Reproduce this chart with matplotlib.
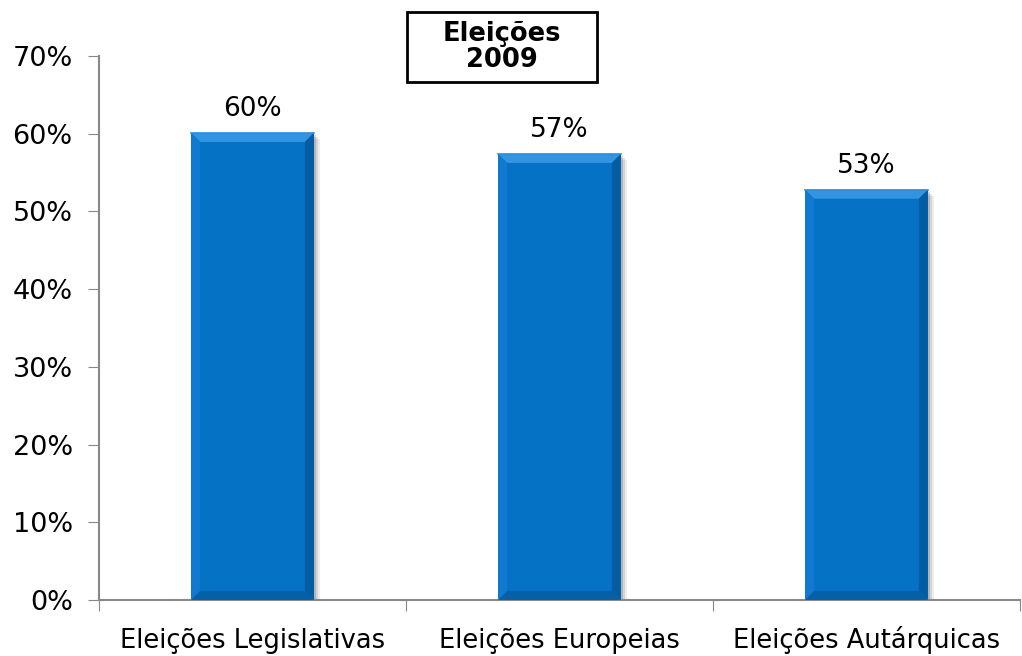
import matplotlib.pyplot as plt
import numpy as np
from matplotlib.patches import Rectangle

categories = ['Eleições Legislativas', 'Eleições Europeias', 'Eleições Autárquicas']
values = [60.1, 57.4, 52.8]
labels = ['60%', '57%', '53%']
yticks = [0, 10, 20, 30, 40, 50, 60, 70]

fig = plt.figure(figsize=(10.22, 6.56), dpi=100)
ax = fig.add_axes([0.0969, 0.0854, 0.9011, 0.8292])

x = np.arange(len(categories))
w = 0.40
main = '#0572C6'

# pixel sizes in data units
px_x = 3.0 / 921
px_y = 70.0 / 544
bx = 9 * px_x
by = 9 * px_y

for xi, v in zip(x, values):
    l, r = xi - w / 2, xi + w / 2
    # soft shadow
    for k, a in zip([6, 4, 2], [0.07, 0.10, 0.15]):
        ax.fill([l + k * px_x, r + k * px_x, r + k * px_x, l + k * px_x],
                [-k * px_y, -k * px_y, v - k * px_y, v - k * px_y],
                color='black', alpha=a, lw=0, zorder=1)
    ax.bar(xi, v, width=w, color=main, zorder=2)
    # bevel: top light, left slightly light, right and bottom dark
    ax.fill([l, r, r - bx, l + bx], [v, v, v - by, v - by], color='#3394E2', lw=0, zorder=3)
    ax.fill([l, l + bx, l + bx, l], [v, v - by, by, 0], color='#0F7AD0', lw=0, zorder=3)
    ax.fill([r, r - bx, r - bx, r], [v, v - by, by, 0], color='#045DA3', lw=0, zorder=3)
    ax.fill([l, r, r - bx, l + bx], [0, 0, by, by], color='#0560A6', lw=0, zorder=3)
    ax.plot([l, r], [v, v], color='#2A8FE0', lw=1.2, zorder=4)

for xi, v, t in zip(x, values, labels):
    ax.annotate(t, (xi, v), xytext=(0, 8), textcoords='offset points',
                ha='center', va='bottom', fontsize=19)

# category labels on a common baseline
for xi, c in zip(x, categories):
    ax.text(xi, -48 * px_y, c, ha='center', va='baseline', fontsize=18.5, clip_on=False)

ax.set_xlim(-0.5, 2.5)
ax.set_ylim(0, 70)
ax.set_yticks(yticks)
ax.set_yticklabels([f'{t}%' for t in yticks], fontsize=19.5)
ax.set_xticks([-0.5, 0.5, 1.5, 2.5])
ax.set_xticklabels([])
ax.tick_params(axis='x', which='major', length=8, color='#888888')
ax.tick_params(axis='y', length=8, color='#888888', pad=11)

for s in ['top', 'right']:
    ax.spines[s].set_visible(False)
for s in ['left', 'bottom']:
    ax.spines[s].set_color('#888888')
    ax.spines[s].set_linewidth(1.5)

fig.patches.append(Rectangle((0.398, 0.875), 0.186, 0.107, transform=fig.transFigure,
                             facecolor='white', edgecolor='black', lw=2))
fig.text(0.491, 0.928, 'Eleições\n2009', ha='center', va='center', fontsize=18.5,
         fontweight='bold', linespacing=1.0)

fig.savefig('out.png', dpi=100)
